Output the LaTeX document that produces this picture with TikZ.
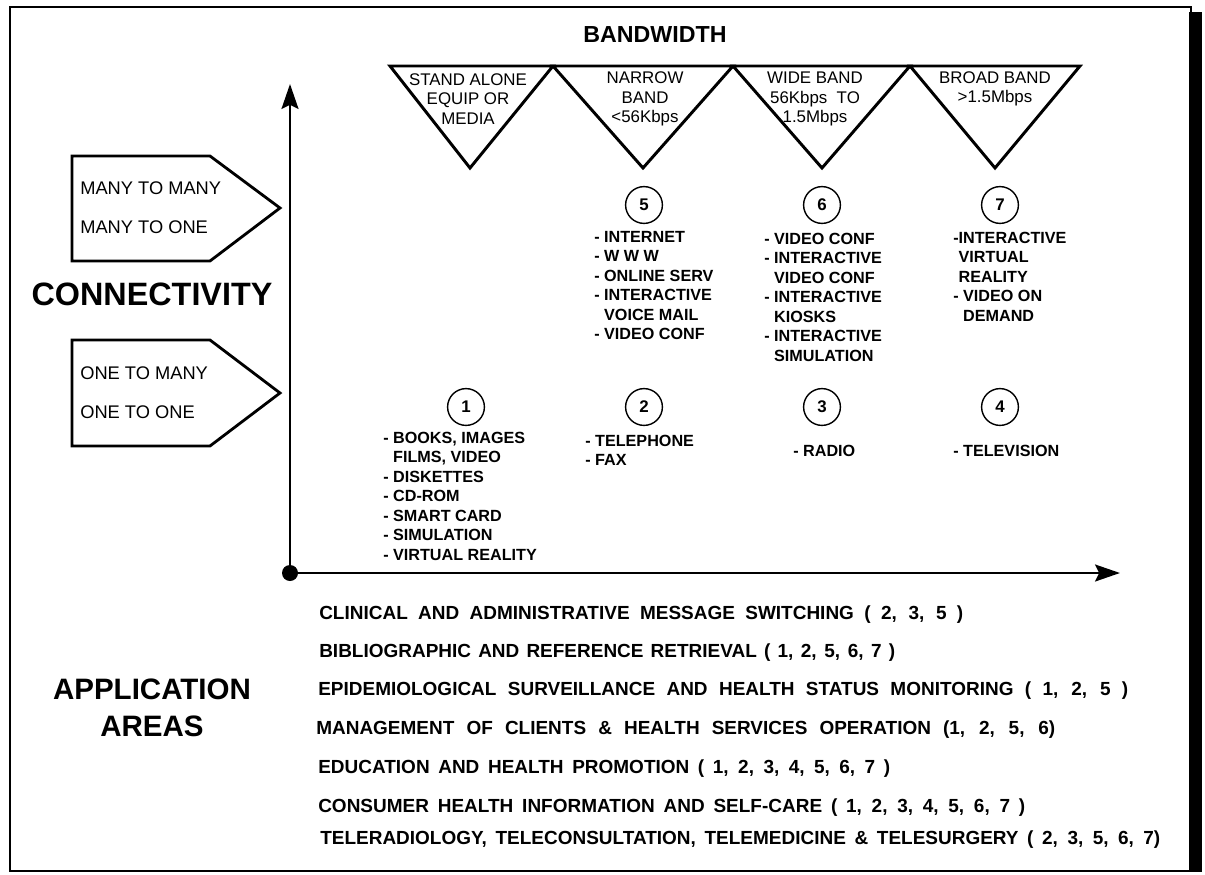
\documentclass[tikz,border=0pt]{standalone}
\usepackage{fontspec}
\setmainfont{Liberation Sans}
\usetikzlibrary{positioning,arrows.meta}

\newdimen\pxunit \pxunit=0.025cm
\newcommand{\ind}{\hphantom{-\ }}
\newcommand{\spread}[2]{\makebox[#1\pxunit][s]{#2}}

\begin{document}
\begin{tikzpicture}[x=0.025cm, y=-0.025cm,
    triStyle/.style={line width=2.1pt, line join=miter},
    pentStyle/.style={line width=2pt, line join=miter},
    axisStyle/.style={line width=2.1pt, -{Stealth[length=0.62cm, width=0.42cm, inset=0.1cm]}},
    bandStyle/.style={align=center, inner sep=0pt, font=\fontsize{12}{13.8}\selectfont},
    numStyle/.style={circle, draw, line width=1pt, minimum size=0.92cm, inner sep=0pt, font=\bfseries\fontsize{12}{14}\selectfont},
    listStyle/.style={anchor=north west, align=left, inner sep=0pt, font=\bfseries\fontsize{11.5}{13.8}\selectfont},
    connStyle/.style={anchor=west, align=left, inner sep=0pt, font=\fontsize{13}{27.6}\selectfont},
    titleStyle/.style={align=center, inner sep=0pt, font=\bfseries\fontsize{21}{26.2}\selectfont},
    areaStyle/.style={anchor=west, inner sep=0pt, font=\bfseries\fontsize{13.5}{16}\selectfont}
]
    \useasboundingbox (0,0) rectangle (1205,875);
    \fill[white] (0,0) rectangle (1205,875);

    % frame with shadow bar on the right
    \draw[line width=1.2pt] (10,7) rectangle (1191,871);
    \fill (1189,12) rectangle (1202,872);

    \node[titleStyle, font=\bfseries\fontsize{16.5}{19}\selectfont] (bw) at (655,35) {BANDWIDTH};

    % bandwidth classes
    \draw[triStyle] (390,66) -- (553,66) -- (470,168) -- cycle;
    \draw[triStyle] (553,66) -- (733,66) -- (643,168) -- cycle;
    \draw[triStyle] (733,66) -- (910,66) -- (822,168) -- cycle;
    \draw[triStyle] (910,66) -- (1080,66) -- (995,168) -- cycle;
    \node[bandStyle] (t1) at (468,99) {STAND ALONE\\EQUIP OR\\MEDIA};
    \node[bandStyle] (t2) at (645,99) {NARROW\\BAND\\<56Kbps};
    \node[bandStyle] (t3) at (815,99) {WIDE BAND\\56Kbps\ \ TO\\1.5Mbps};
    \node[bandStyle] (t4) at (995,89) {BROAD BAND\\>1.5Mbps};

    % connectivity classes
    \draw[pentStyle] (72,156) -- (210,156) -- (280,208) -- (210,261) -- (72,261) -- cycle;
    \draw[pentStyle] (72,340) -- (210,340) -- (280,393) -- (210,446) -- (72,446) -- cycle;
    \node[connStyle] (mm) at (80,208) {MANY TO MANY\\MANY TO ONE};
    \node[connStyle] (oo) at (80,393) {ONE TO MANY\\ONE TO ONE};
    \node[titleStyle, font=\bfseries\fontsize{23}{26}\selectfont] (conn) at (152,294) {CONNECTIVITY};

    % axes
    \coordinate (origin) at (290,573);
    \coordinate (ytip) at (290,84);
    \coordinate (xtip) at (1120,573);
    \draw[axisStyle] (origin) -- (ytip);
    \draw[axisStyle] (origin) -- (xtip);
    \fill (origin) circle (0.2cm);

    \node[numStyle] (c1) at (466,407) {1};
    \node[numStyle] (c2) at (644,407) {2};
    \node[numStyle] (c3) at (822,407) {3};
    \node[numStyle] (c4) at (1000,407) {4};
    \node[numStyle] (c5) at (644,205) {5};
    \node[numStyle] (c6) at (822,205) {6};
    \node[numStyle] (c7) at (1000,205) {7};

    \node[listStyle] (l1) at (383,432) {- BOOKS, IMAGES\\\ind FILMS, VIDEO\\- DISKETTES\\- CD-ROM\\- SMART CARD\\- SIMULATION\\- VIRTUAL REALITY};
    \node[listStyle] (l2) at (585,435) {- TELEPHONE\\- FAX};
    \node[listStyle] (l3) at (793,445) {- RADIO};
    \node[listStyle] (l4) at (953,445) {- TELEVISION};
    \node[listStyle] (l5) at (594,231) {- INTERNET\\- W W W\\- ONLINE SERV\\- INTERACTIVE\\\ind VOICE MAIL\\- VIDEO CONF};
    \node[listStyle] (l6) at (764,233) {- VIDEO CONF\\- INTERACTIVE\\\ind VIDEO CONF\\- INTERACTIVE\\\ind KIOSKS\\- INTERACTIVE\\\ind SIMULATION};
    \node[listStyle] (l7) at (953,232) {-INTERACTIVE\\\hphantom{-}VIRTUAL\\\hphantom{-}REALITY\\- VIDEO ON\\\ind DEMAND};

    % application areas
    \node[titleStyle] (appl) at (152,708) {APPLICATION\\AREAS};
    \node[areaStyle] (a1) at (319,615) {\spread{644}{CLINICAL AND ADMINISTRATIVE MESSAGE SWITCHING ( 2, 3, 5 )}};
    \node[areaStyle] (a2) at (319,653) {\spread{576}{BIBLIOGRAPHIC AND REFERENCE RETRIEVAL ( 1, 2, 5, 6, 7 )}};
    \node[areaStyle] (a3) at (318,691) {\spread{810}{EPIDEMIOLOGICAL SURVEILLANCE AND HEALTH STATUS MONITORING ( 1, 2, 5 )}};
    \node[areaStyle] (a4) at (316,730) {\spread{739}{MANAGEMENT OF CLIENTS \& HEALTH SERVICES OPERATION (1, 2, 5, 6)}};
    \node[areaStyle] (a5) at (318,769) {\spread{572}{EDUCATION AND HEALTH PROMOTION ( 1, 2, 3, 4, 5, 6, 7 )}};
    \node[areaStyle] (a6) at (318,808) {\spread{707}{CONSUMER HEALTH INFORMATION AND SELF-CARE ( 1, 2, 3, 4, 5, 6, 7 )}};
    \node[areaStyle] (a7) at (320,840) {\spread{840}{TELERADIOLOGY, TELECONSULTATION, TELEMEDICINE \& TELESURGERY ( 2, 3, 5, 6, 7)}};
\end{tikzpicture}
\end{document}
